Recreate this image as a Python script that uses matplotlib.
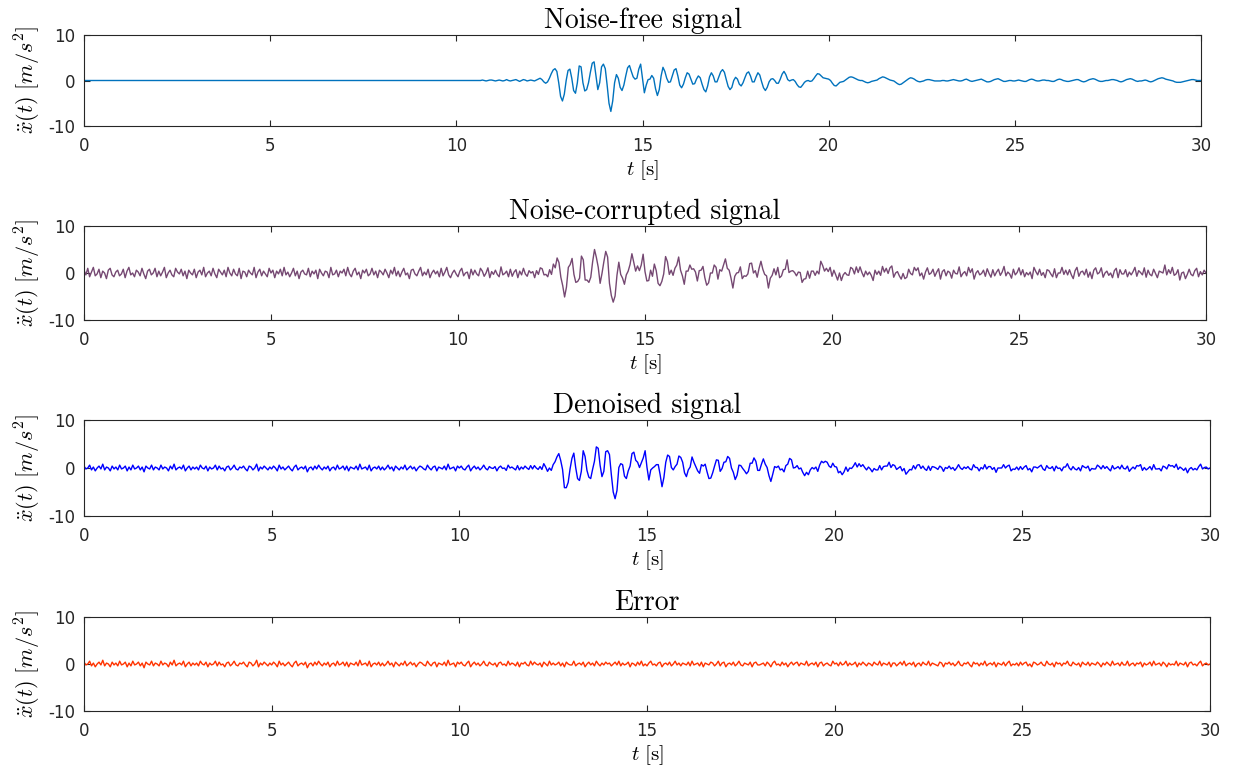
import numpy as np
import matplotlib
matplotlib.use("Agg")
import matplotlib.pyplot as plt

# sampling of the record: 0 .. 30 s every 0.05 s (601 samples)
dt = 0.05
n_samples = 601

# noise-free acceleration [m/s^2]
# (zero until ~10.5 s, then one row per second, 20 samples each)
clean = [0.0] * 200 + [
    # 10 s
    0, 0, 0, 0, 0, 0, 0, 0, 0, 0, 0, 0, 0, 0, 0.1, 0, -0.1, 0, 0.1, 0.1,
    # 11 s
    0, -0.1, 0, 0.1, 0, -0.1, 0, 0.2, 0, -0.1, 0, 0.1, 0.2, 0, -0.2, 0, 0.2, 0.1, -0.1, 0,
    # 12 s
    0.1, 0, -0.1, 0.1, 0.3, 0.5, 0.2, -0.3, -0.6, -0.3, 0.5, 1.5, 2.3, 2.6, 2.0, -0.5, -3.5, -4.5, -3.0, 0.0,
    # 13 s
    2.2, 2.5, 0.5, -2.2, -2.8, -0.5, 3.2, 3.0, -0.5, -2.3, -2.0, -0.5, 1.8, 3.8, 4.1, 1.0, -2.0, -0.5, 3.0, 3.6,
    # 14 s
    2.6, -1.0, -5.0, -6.8, -4.5, -0.5, 1.3, 0.5, -1.5, -2.2, -1.0, 1.0, 2.8, 3.3, 2.0, 0.8, 0.3, 0.5, 2.5, 3.6,
    # 15 s
    0.5, -2.7, -1.0, 0.2, 0.3, 1.1, 0.5, -1.8, -3.3, -2.0, 1.0, 2.9, 2.0, 0.5, -0.4, -0.3, 1.0, 2.3, 2.6, 1.0,
    # 16 s
    -1.0, -1.6, -0.8, 0.6, 1.7, 1.4, 0.3, -0.8, -0.7, 0.3, 1.0, 0.6, -0.8, -2.0, -2.5, -1.2, 0.8, 1.7, 1.0, -0.3,
    # 17 s
    -0.3, 0.8, 1.9, 2.4, 1.8, 0.2, -1.3, -2.0, -1.5, 0.0, 0.7, 0.3, -0.8, -1.2, -0.5, 0.6, 1.6, 1.9, 1.0, -0.3,
    # 18 s
    -0.3, 0.8, 1.7, 1.2, -0.3, -1.6, -2.2, -1.5, -0.3, 0.3, 0.4, 0.0, -0.6, -0.6, 0.3, 1.4, 2.0, 1.3, 0.2, -0.1,
    # 19 s
    0.1, 0.2, -0.2, -0.9, -1.4, -1.5, -1.0, -0.4, -0.1, 0.0, -0.2, -0.1, 0.4, 1.0, 1.5, 1.4, 1.0, 0.6, 0.5, 0.4,
    # 20 s
    0.3, 0.0, -0.6, -1.1, -1.2, -0.8, -0.4, -0.3, -0.2, 0.1, 0.4, 0.7, 0.8, 0.7, 0.5, 0.3, 0.1, 0.0, 0.0, -0.2,
    # 21 s
    -0.4, -0.5, -0.4, -0.2, -0.1, 0.0, 0.1, 0.4, 0.6, 0.8, 0.7, 0.5, 0.3, 0.1, 0.0, -0.1, -0.4, -0.7, -0.9, -0.8,
    # 22 s
    -0.5, -0.2, 0.1, 0.4, 0.6, 0.5, 0.3, 0.0, -0.2, -0.3, -0.2, -0.1, 0.1, 0.2, 0.2, 0.1, 0.0, -0.1, -0.1, -0.1,
    # 23 s
    -0.1, 0.0, 0.0, -0.1, -0.1, 0.0, 0.1, 0.2, 0.1, 0.0, -0.1, -0.1, 0.0, 0.2, 0.3, 0.1, -0.1, -0.2, -0.1, 0.0,
    # 24 s
    0.1, 0.2, 0.3, 0.1, -0.1, -0.3, -0.3, -0.2, 0.0, 0.2, 0.3, 0.4, 0.2, 0.0, -0.2, -0.2, -0.1, 0.0, 0.0, -0.1,
    # 25 s
    -0.1, 0.0, 0.1, 0.0, -0.1, -0.2, -0.2, 0.0, 0.2, 0.3, 0.2, 0.0, -0.1, -0.1, 0.0, 0.1, 0.1, 0.0, 0.0, -0.1,
    # 26 s
    -0.2, -0.2, 0.0, 0.2, 0.3, 0.2, 0.0, -0.1, -0.2, -0.2, -0.1, 0.0, 0.1, 0.2, 0.2, 0.0, -0.2, -0.3, -0.2, 0.0,
    # 27 s
    0.2, 0.3, 0.4, 0.3, 0.1, -0.1, -0.2, -0.2, -0.1, 0.0, 0.0, 0.1, 0.2, 0.2, 0.1, 0.0, -0.2, -0.3, -0.2, 0.0,
    # 28 s
    0.2, 0.3, 0.4, 0.3, 0.1, -0.1, -0.2, -0.1, -0.1, 0.0, 0.1, 0.0, -0.2, -0.3, -0.2, 0.0, 0.2, 0.4, 0.5, 0.6,
    # 29 s
    0.5, 0.3, 0.2, 0.1, 0.0, -0.1, -0.3, -0.4, -0.4, -0.4, -0.3, -0.2, -0.1, 0.0, 0.1, 0.2, 0.2, 0.1, 0.0, 0.0,
    # 30 s
    0.0,
]

# additive measurement noise, in steps of 0.2 m/s^2 (one row per second)
noise_steps = [
    3, -2, 5, -4, 1, 6, -3, -1, 4, -5, 2, 0, -6, 3, 5, -2, -4, 1, 3, -3,
    -1, 4, -5, 2, 6, -2, 0, -4, 3, 1, -3, 5, -1, -6, 2, 4, -2, 0, 5, -4,
    2, -3, 1, 6, -5, 0, 3, -2, -4, 5, 1, -1, 4, -3, 2, -6, 3, 0, -2, 4,
    -5, 1, 3, -2, 6, -4, 0, 2, -3, 5, -1, -5, 4, 1, -2, 3, -4, 6, 0, -3,
    4, -1, -3, 5, -6, 2, 1, -4, 3, 0, -2, 6, -5, 1, 4, -3, 2, -1, -4, 5,
    0, 3, -5, 2, -1, 4, -3, 6, -2, 1, -4, 0, 5, -3, 2, -6, 1, 3, -1, -2,
    5, -4, 2, -1, 3, -6, 4, 0, -3, 2, 1, -5, 6, -2, -1, 3, -4, 2, 0, 4,
    -3, 6, -1, -4, 2, 5, -2, 1, -6, 3, 0, 4, -3, -1, 5, -2, 2, -5, 3, 1,
    -2, 4, 0, -5, 3, -1, 6, -3, 2, -4, 1, 5, -2, 0, -6, 3, 4, -1, -3, 2,
    6, -3, 1, -2, 4, -5, 0, 3, -1, 2, -4, 5, -3, 1, 6, -2, -5, 0, 3, -1,
    -4, 2, 5, -3, 0, 1, -6, 4, -2, 3, -1, -3, 5, 2, -4, 0, 6, -5, 1, -2,
    3, -1, -4, 6, -2, 0, 2, -5, 4, -3, 1, 3, -6, 2, -1, 5, -2, -4, 3, 0,
    1, -5, 3, -2, 4, 2, -3, 0, -1, 5, -4, 2, -6, 3, 1, -2, 4, -3, 0, 6,
    -2, 3, -4, 1, 5, -3, 2, -1, -5, 4, 0, -2, 3, 6, -4, 1, -1, 2, -3, 5,
    4, -6, 1, 3, -2, 0, 5, -4, 2, -1, 3, -3, -5, 4, 1, -2, 6, 0, -4, 2,
    -1, 5, -3, 2, -5, 4, 0, -2, 3, 1, -6, 3, 2, -4, 5, -1, 0, -3, 4, -2,
    2, -4, 6, -1, 0, -3, 3, 5, -5, 1, -2, 4, -1, -3, 2, 6, -4, 0, 1, -5,
    5, -2, -1, 3, -4, 2, 1, -6, 4, 0, -3, 5, -2, 3, -1, -4, 2, 1, -5, 4,
    -3, 1, 4, -2, 0, 5, -5, 2, -1, 3, -4, 6, -2, 0, 2, -3, 4, -6, 1, 3,
    0, -4, 2, 5, -3, 1, -1, 4, -5, 2, 3, -2, 0, -6, 5, 1, -3, 2, -1, 4,
    -5, 3, 1, -2, 6, -4, 0, 2, -1, -3, 4, 1, -5, 3, -2, 5, 0, -4, 2, -1,
    3, 0, -6, 4, -1, 2, -3, 5, -2, 1, -4, 3, 6, -5, 0, 2, -1, -3, 4, -2,
    -2, 5, -1, -4, 3, 0, 4, -3, 1, -5, 2, 6, -2, -1, 3, -4, 1, 5, -6, 2,
    4, -3, 2, 1, -5, 3, -1, -2, 6, -4, 0, 2, -3, 5, -1, 4, -6, 1, 3, -2,
    -1, 2, -5, 4, 0, -3, 5, -2, 1, 3, -4, -1, 6, -3, 2, 0, -5, 4, -2, 1,
    6, -2, 3, -4, 1, -1, 2, -6, 5, 0, -3, 4, -2, 1, -5, 3, 2, -1, -4, 5,
    -4, 1, 0, 5, -3, 2, -2, 4, -1, -5, 3, 6, -4, 0, 1, -2, 5, -3, 2, -6,
    2, 4, -3, -1, 5, -4, 1, 3, -2, 0, -5, 2, 4, -6, 3, -1, 0, 5, -3, 1,
    -3, 0, 4, -5, 2, 1, -1, 6, -4, 3, -2, -3, 5, 1, -4, 2, 0, -2, 6, -5,
    1, -2, 5, -3, -1, 4, -6, 2, 3, -4, 0, 5, -1, -3, 2, 4, -5, 1, -2, 3,
    0,
]

# denoising error (denoised - clean), in steps of 0.2 m/s^2
error_steps = [
    2, -1, 0, 3, -2, 1, -3, 0, 2, -1, 4, -2, 1, 0, -3, 2, -1, 1, -2, 3,
    -1, 0, 2, -3, 1, -2, 3, -1, 0, 2, -2, 1, -4, 2, 0, -1, 3, -2, 1, 0,
    -2, 3, -1, 1, 0, -3, 2, -1, 4, -2, 0, 1, -1, 3, -3, 0, 2, -2, 1, -1,
    1, -2, 3, 0, -1, 2, -3, 1, -1, 0, 3, -2, 2, -1, 0, -3, 1, 2, -2, 0,
    3, -1, -2, 1, 0, 2, -1, -3, 2, 1, -2, 0, 4, -3, 1, -1, 2, 0, -2, 1,
    -1, 2, 0, -3, 3, -1, 1, -2, 0, 2, -1, -3, 1, 3, -2, 0, 1, -1, 2, -4,
    0, 1, -2, 2, -1, 3, 0, -2, 1, -1, 2, -3, 0, 1, -2, 3, -1, 0, 2, -2,
    2, -3, 1, 0, -1, 2, -2, 4, -1, 0, 1, -2, 3, -3, 0, 1, -1, 2, -2, 1,
    -2, 0, 3, -1, 1, -3, 2, 0, -2, 1, -1, 3, -2, 0, 2, -1, 1, -3, 0, 2,
    1, -1, -2, 3, 0, -2, 1, 2, -3, 1, 0, -1, 2, -2, 4, -1, 0, 1, -3, 2,
    0, 2, -1, -2, 1, 3, -3, 0, 2, -1, 1, -2, 0, 3, -1, -2, 2, 0, -1, 1,
    -3, 1, 2, -1, 0, -2, 3, -1, 1, 0, -2, 2, -3, 1, 0, 2, -1, -2, 3, -1,
    2, 0, -1, 1, -3, 2, 0, -2, 3, -1, 1, -1, 0, 2, -2, 1, -3, 2, 0, -1,
    -1, 3, -2, 0, 1, -1, 2, -3, 0, 2, -1, 1, -2, 3, 0, -2, 1, -1, 2, 0,
    1, -2, 0, 2, -1, 3, -2, 1, -1, 0, 2, -3, 1, 0, -2, 2, -1, 3, -2, 0,
    -2, 1, 3, -1, 0, -2, 1, 2, -3, 0, 1, -1, 2, -2, 0, 3, -1, 1, -2, 1,
    0, -1, 2, -2, 3, -1, 0, 1, -2, 2, -3, 1, 0, -1, 2, 1, -2, 0, 3, -2,
    1, 2, -3, 0, 1, -1, 2, -2, 0, 3, -1, -2, 1, 0, -1, 2, -3, 1, 2, -1,
    -1, 0, 1, -2, 2, 0, -3, 1, 3, -1, 0, -2, 2, -1, 1, -3, 0, 2, -1, 1,
    2, -2, 1, 0, -1, 3, -2, 0, 1, -1, 2, -3, 1, 2, -2, 0, 1, -1, -2, 3,
    0, 1, -2, 2, -1, 0, 3, -2, 1, -1, 0, 2, -3, 1, -1, 2, 0, -2, 1, 0,
    -2, 2, 0, -1, 3, -2, 1, 0, -1, 2, -3, 1, 1, -2, 0, 2, -1, 3, -2, 0,
    1, -1, 2, -3, 0, 1, -2, 2, 0, -1, 3, -2, 1, 0, -1, -2, 2, 1, -3, 1,
    0, 2, -1, 1, -2, 0, 3, -1, -2, 1, 0, 2, -1, -3, 2, 0, 1, -2, 1, -1,
    3, -2, 0, 1, -1, 2, -3, 1, 0, -1, 2, -2, 1, 3, -2, 0, -1, 1, -2, 2,
    -1, 1, 2, -2, 0, -3, 2, 1, -1, 0, 2, -1, -2, 3, 0, -1, 1, -3, 2, 0,
    1, -2, 1, 0, 3, -1, -2, 2, 0, -1, 1, -3, 2, 0, -1, 2, -2, 1, 0, -1,
    2, 0, -3, 1, -1, 2, 0, -2, 3, -1, 0, 1, -2, 2, -1, -1, 3, -2, 0, 1,
    -2, 1, 0, 2, -3, 1, -1, 0, 2, -2, 3, -1, 0, 1, -2, 2, 0, -3, 1, -1,
    0, -1, 3, -2, 1, 0, -1, 2, -3, 1, 2, -1, 0, -2, 1, 3, -2, 0, 1, -1,
    0,
]
step = 0.2  # m/s^2 per noise step

titles = ["Noise-free signal", "Noise-corrupted signal", "Denoised signal", "Error"]
colors = ["#0072BD", "#754872", "#0000FF", "#FF3300"]
xticks = [0, 5, 10, 15, 20, 25, 30]
yticks = [-10, 0, 10]

t = np.arange(n_samples) * dt
clean = np.array(clean)
noisy = clean + step * np.array(noise_steps)
error = step * np.array(error_steps)
denoised = clean + error
series = [clean, noisy, denoised, error]

plt.rcParams["mathtext.fontset"] = "cm"
plt.rcParams["axes.unicode_minus"] = False
plt.rcParams["font.family"] = "DejaVu Sans"

W, H = 1234, 767
fig = plt.figure(figsize=(W / 100, H / 100), dpi=100)

# axes boxes in pixels: left, top, right, bottom
boxes = [(84, 35, 1201, 126), (84, 226, 1206, 320), (84, 420, 1210, 516), (84, 617, 1210, 711)]

for (x0, y0, x1, y1), y, c, title in zip(boxes, series, colors, titles):
    ax = fig.add_axes([x0 / W, 1 - y1 / H, (x1 - x0) / W, (y1 - y0) / H])
    ax.plot(t, y, color=c, lw=1.0)
    ax.set_xlim(0, 30)
    ax.set_ylim(-10, 10)
    ax.set_xticks(xticks)
    ax.set_yticks(yticks)
    ax.tick_params(direction="in", top=True, right=True, length=4, width=0.8,
                   labelsize=12, colors="#262626")
    ax.tick_params(axis="x", pad=8)
    ax.tick_params(axis="y", pad=6)
    for s in ax.spines.values():
        s.set_color("#262626")
        s.set_linewidth(0.8)
    ax.set_title(title, fontfamily="cmr10", fontsize=20, pad=5)
    ax.set_xlabel(r"$t\ [\mathrm{s}]$", fontsize=15, labelpad=2)
    ax.set_ylabel(r"$\ddot{x}(t)\ [m/s^2]$", fontsize=16, labelpad=4)

fig.savefig("out.png", dpi=100)
